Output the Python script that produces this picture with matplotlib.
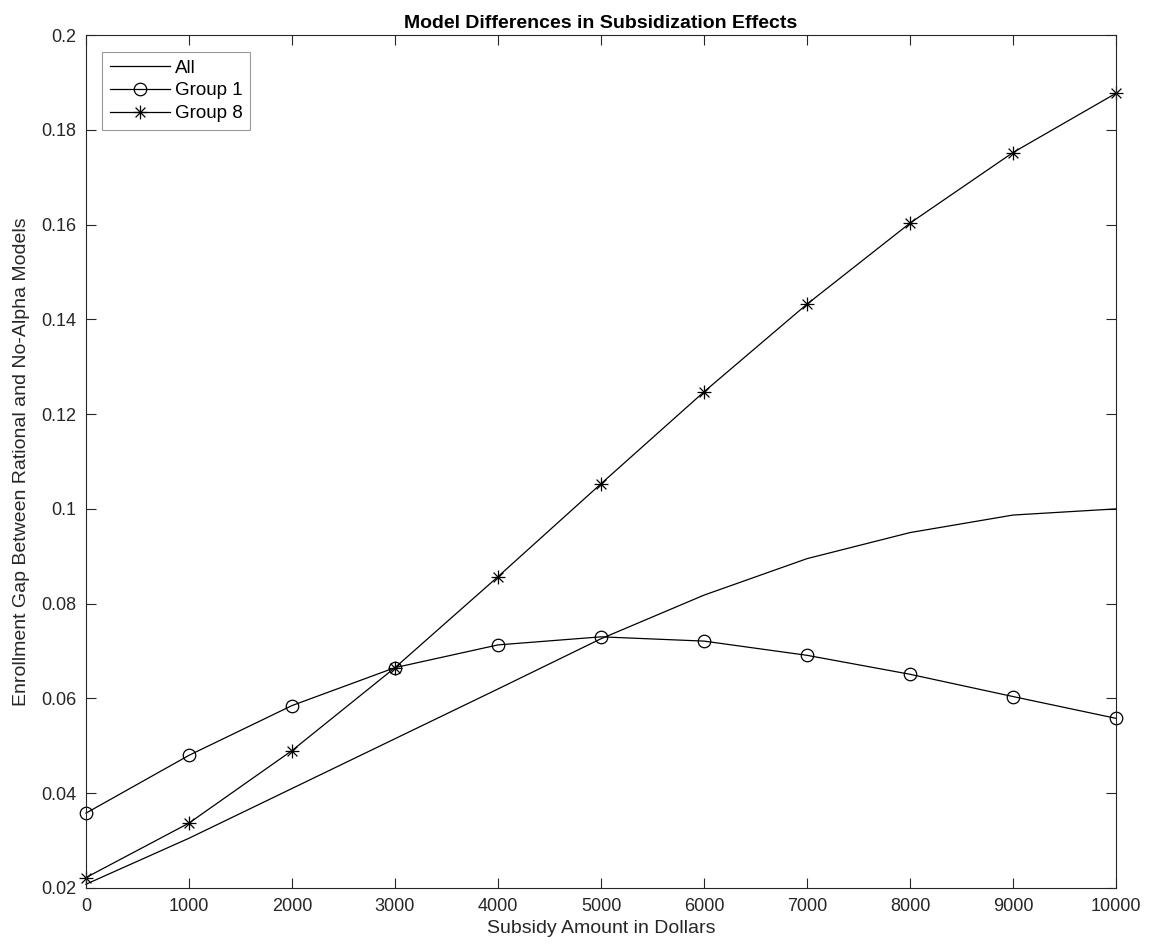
import numpy as np
import matplotlib
matplotlib.use("Agg")
import matplotlib.pyplot as plt
from matplotlib.path import Path

plt.rcParams['font.family'] = ['Liberation Sans', 'DejaVu Sans']

subsidy = [0, 1000, 2000, 3000, 4000, 5000, 6000, 7000, 8000, 9000, 10000]
gap_all = [0.0208, 0.0305, 0.0410, 0.0515, 0.0620, 0.0726, 0.0818, 0.0895, 0.0950, 0.0987, 0.1000]
gap_g1 = [0.0358, 0.0480, 0.0585, 0.0665, 0.0713, 0.0730, 0.0721, 0.0691, 0.0651, 0.0604, 0.0558]
gap_g8 = [0.0222, 0.0337, 0.0490, 0.0665, 0.0857, 0.1053, 0.1247, 0.1432, 0.1603, 0.1752, 0.1877]

xticks = np.arange(0, 10001, 1000)
yticks = np.arange(0.02, 0.2001, 0.02)

# matlab style asterisk: + and x together
s = 0.7071
asterisk = Path([(0, -1), (0, 1), (-1, 0), (1, 0), (-s, -s), (s, s), (-s, s), (s, -s)],
                [Path.MOVETO, Path.LINETO] * 4)

W, H = 1149, 952
fig = plt.figure(figsize=(W / 100, H / 100), dpi=100)
ax = fig.add_axes([86 / W, 1 - 888 / H, 1030 / W, 853 / H])

lw = 0.9
ax.plot(subsidy, gap_all, color='k', lw=lw, label='All', clip_on=False)
ax.plot(subsidy, gap_g1, color='k', lw=lw, marker='o', ms=9, mfc='none', mew=0.9,
        label='Group 1', clip_on=False)
ax.plot(subsidy, gap_g8, color='k', lw=lw, marker=asterisk, ms=10, mew=0.9,
        label='Group 8', clip_on=False)

ax.set_xlim(0, 10000)
ax.set_ylim(0.02, 0.2)
ax.set_xticks(xticks)
ax.set_yticks(yticks)
ax.set_xticklabels([str(v) for v in xticks])
ax.set_yticklabels(['%g' % round(v, 2) for v in yticks])

grey = '#262626'
for sp in ax.spines.values():
    sp.set_color(grey)
    sp.set_linewidth(0.8)
ax.tick_params(direction='in', length=7, width=0.8, colors=grey, labelsize=13,
               top=True, right=True, pad=7)

ax.set_xlabel('Subsidy Amount in Dollars', fontsize=14, color=grey, labelpad=4)
ax.set_ylabel('Enrollment Gap Between Rational and No-Alpha Models', fontsize=14, color=grey, labelpad=8)
ax.set_title('Model Differences in Subsidization Effects', fontsize=14, fontweight='bold', color='k', pad=5)

leg = ax.legend(loc='upper left', bbox_to_anchor=(102 / W, 1 - 52 / H), bbox_transform=fig.transFigure,
                borderaxespad=0, fancybox=False, framealpha=1, edgecolor='#999999',
                fontsize=13.5, handlelength=3.2, handletextpad=0.3, borderpad=0.4, labelspacing=0.3)
leg.get_frame().set_linewidth(0.8)

fig.savefig('out.png', dpi=100)
